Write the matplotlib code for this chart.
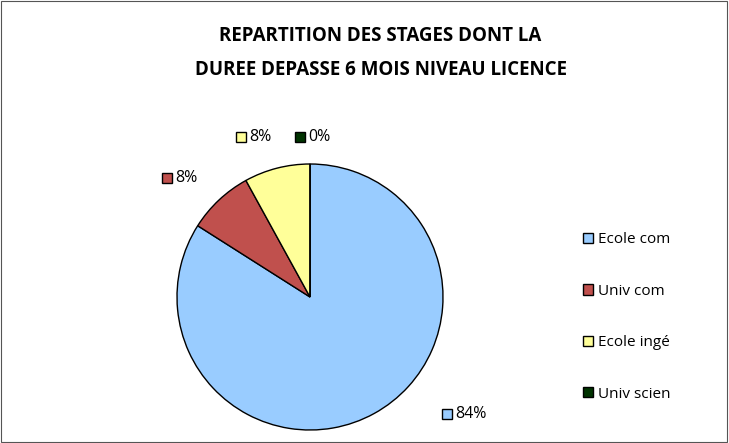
import numpy as np
import matplotlib
matplotlib.use("Agg")
import matplotlib.pyplot as plt
from matplotlib.patches import Patch, Rectangle

plt.rcParams['font.family'] = ['Open Sans', 'DejaVu Sans']

# Data
categories = ['Ecole com', 'Univ com', 'Ecole ingé', 'Univ scien']
values = [84, 8, 8, 0]
pct_labels = ['84%', '8%', '8%', '0%']
colors = ['#99CCFF', '#C0504D', '#FFFF99', '#003300']
title = 'REPARTITION DES STAGES DONT LA\nDUREE DEPASSE 6 MOIS NIVEAU LICENCE'

# label placement (angle in deg, distance in radii) - layout only
label_pos = [(-40.5, 1.355), (140.2, 1.40), (113.3, 1.31), (93.6, 1.205)]

fig = plt.figure(figsize=(7.29, 4.43), dpi=100)
fig.add_artist(Rectangle((0.002, 0.003), 0.995, 0.994, transform=fig.transFigure,
                         fill=False, edgecolor='#555555', linewidth=0.8))

cx, cy, r = 310, 297, 133
ax = fig.add_axes([(cx - r) / 729, (443 - cy - r) / 443, 2 * r / 729, 2 * r / 443])
ax.pie(values, colors=colors, startangle=90, counterclock=False,
       wedgeprops=dict(edgecolor='black', linewidth=1.0))
ax.set_xlim(-1, 1)
ax.set_ylim(-1, 1)
ax.set_aspect('auto')

for (ang, dist), lab, col in zip(label_pos, pct_labels, colors):
    x = dist * np.cos(np.radians(ang))
    y = dist * np.sin(np.radians(ang))
    ax.plot([x], [y], marker='s', markersize=7, markerfacecolor=col,
            markeredgecolor='black', markeredgewidth=1, clip_on=False)
    ax.text(x + 0.06, y, lab, fontsize=11.5, va='center', ha='left', clip_on=False)

fig.text(0.522, 0.880, title, ha='center', va='center', fontsize=13.5,
         fontweight='bold', linespacing=1.9)

handles = [Patch(facecolor=c, edgecolor='black', linewidth=1) for c in colors]
fig.legend(handles, categories, loc='center left',
           bbox_to_anchor=(583 / 729, 1 - 317 / 443), frameon=False,
           fontsize=11, handlelength=0.65, handleheight=0.65, handletextpad=0.35,
           labelspacing=2.38, borderpad=0, borderaxespad=0)

fig.savefig('out.png', dpi=100)
